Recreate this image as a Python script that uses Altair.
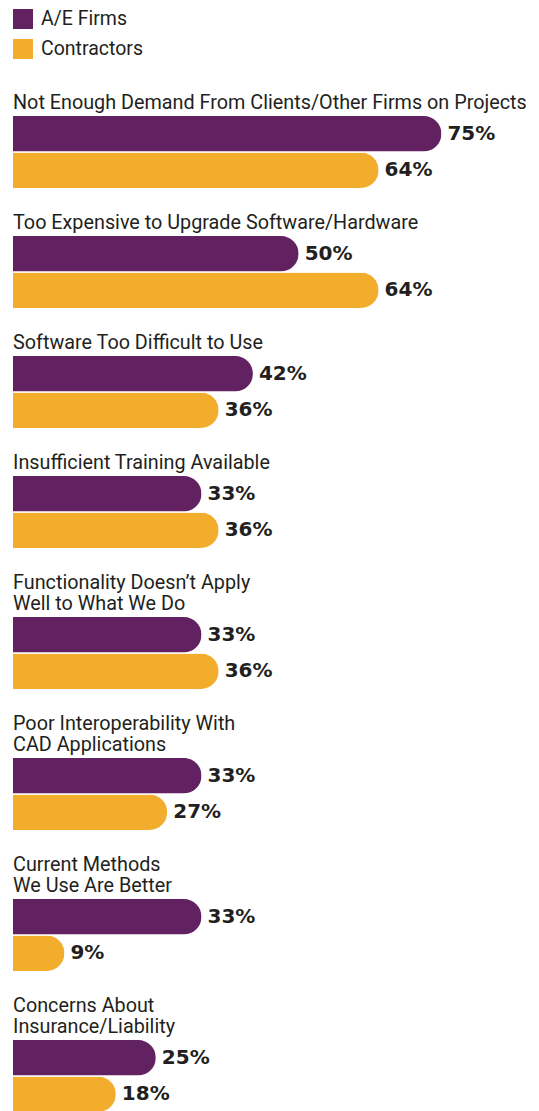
import altair as alt
import pandas as pd

# ---- data ----
categories = [
    "Not Enough Demand From Clients/Other Firms on Projects",
    "Too Expensive to Upgrade Software/Hardware",
    "Software Too Difficult to Use",
    "Insufficient Training Available",
    "Functionality Doesn’t Apply Well to What We Do",
    "Poor Interoperability With CAD Applications",
    "Current Methods We Use Are Better",
    "Concerns About Insurance/Liability",
]
title_lines = [
    ["Not Enough Demand From Clients/Other Firms on Projects"],
    ["Too Expensive to Upgrade Software/Hardware"],
    ["Software Too Difficult to Use"],
    ["Insufficient Training Available"],
    ["Functionality Doesn’t Apply", "Well to What We Do"],
    ["Poor Interoperability With", "CAD Applications"],
    ["Current Methods", "We Use Are Better"],
    ["Concerns About", "Insurance/Liability"],
]
series = ["A/E Firms", "Contractors"]
ae_firms = [75, 50, 42, 33, 33, 33, 33, 25]
contractors = [64, 64, 36, 36, 36, 27, 9, 18]
colors = ["#622160", "#F2AD2C"]

rows = []
for i, c in enumerate(categories):
    for s, vals in zip(series, [ae_firms, contractors]):
        rows.append({"cat": c, "series": s, "value": vals[i], "label": f"{vals[i]}%"})
df = pd.DataFrame(rows)

TITLE_FONT = "Roboto"
TEXT_COLOR = "#231F20"

color = alt.Color(
    "series:N",
    scale=alt.Scale(domain=series, range=colors),
    legend=alt.Legend(
        title=None,
        orient="top",
        direction="vertical",
        symbolType="square",
        symbolSize=400,
        symbolStrokeWidth=0,
        symbolOpacity=1,
        labelFont=TITLE_FONT,
        labelFontSize=19.5,
        labelColor=TEXT_COLOR,
        labelOffset=8,
        rowPadding=10,
        offset=34,
    ),
)


def panel(i):
    base = alt.Chart(df).transform_filter(alt.datum.cat == categories[i])
    x = alt.X("value:Q", axis=None, scale=alt.Scale(domain=[0, 80]))
    y = alt.Y("series:N", sort=series, axis=None,
              scale=alt.Scale(domain=series, paddingInner=0.03, paddingOuter=0))
    bars = base.mark_bar(cornerRadiusEnd=18).encode(x=x, y=y, color=color)
    text = base.mark_text(
        align="left", baseline="middle", dx=6,
        font="DejaVu Sans", fontWeight="bold", fontSize=20, color=TEXT_COLOR,
    ).encode(x=x, y=y, text="label:N")
    return (bars + text).properties(
        width=457,
        height=72,
        title=alt.TitleParams(
            text=title_lines[i],
            anchor="start",
            font=TITLE_FONT,
            fontSize=19.8,
            fontWeight="normal",
            color=TEXT_COLOR,
            baseline="bottom",
            lineHeight=21,
            offset=-17,
        ),
    )


chart = alt.vconcat(*[panel(i) for i in range(len(categories))], spacing=25).properties(
    padding={"left": 5, "top": 1, "right": 0, "bottom": 0}
).configure_view(stroke=None).resolve_scale(color="shared")

chart.save("out.html", embed_options={"renderer": "svg", "actions": False})
